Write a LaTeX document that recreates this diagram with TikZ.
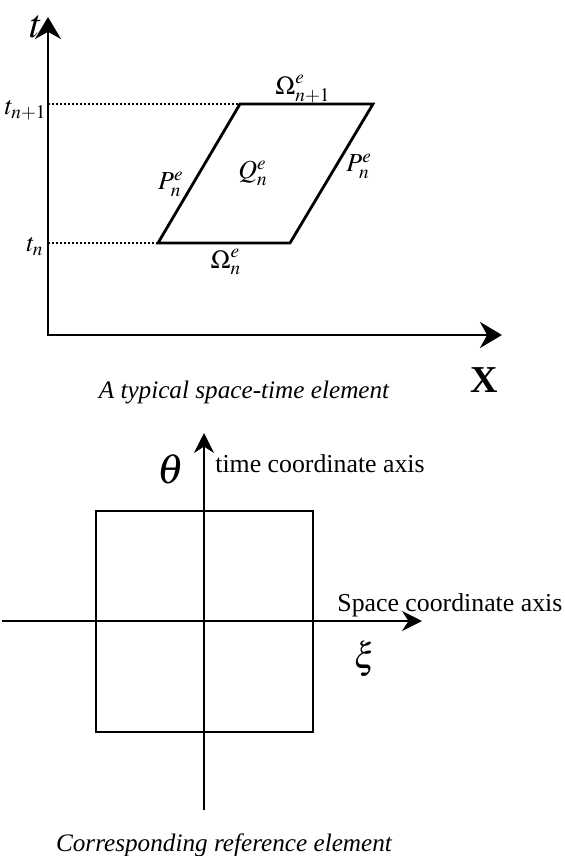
\documentclass[tikz,border=0pt]{standalone}
\usepackage{amsmath}
\usepackage{mathptmx}
\usepackage{fontspec}
\setmainfont{Liberation Serif}
\usetikzlibrary{arrows.meta, positioning}

\begin{document}
\begin{tikzpicture}[
    x=0.5pt, y=-0.5pt,
    bigaxis/.style={line width=1.4pt,
        {Stealth[length=11pt, width=13pt]}-{Stealth[length=11pt, width=13pt]}},
    thinaxis/.style={line width=0.8pt, -{Stealth[length=10pt, width=10pt]}},
    elemedge/.style={line width=1.4pt, line join=miter},
    guide/.style={line width=1.1pt, dash pattern=on 1.2pt off 0.8pt},
    refbox/.style={line width=0.7pt},
    lbl/.style={inner sep=0pt, font=\fontsize{13}{15}\selectfont},
    biglbl/.style={inner sep=0pt, font=\fontsize{18}{20}\selectfont},
    caption/.style={inner sep=0pt, font=\fontsize{12.6}{15}\selectfont\itshape},
    axistext/.style={inner sep=0pt, anchor=west, font=\fontsize{12.9}{15}\selectfont}
  ]
  \useasboundingbox (0,0) rectangle (565,856);

  % space-time element
  \coordinate (o1) at (48,335);
  \coordinate (ttip) at (48,17);
  \coordinate (xtip) at (502,335);
  \coordinate (tn1) at (48,104);
  \coordinate (tn) at (48,243);
  \coordinate (a) at (158,243);
  \coordinate (b) at (290,243);
  \coordinate (c) at (373,104);
  \coordinate (d) at (240,104);
  \draw[bigaxis] (ttip) -- (o1) -- (xtip);
  \draw[guide] (tn1) -- (d);
  \draw[guide] (tn) -- (a);
  \draw[elemedge] (a) -- (b) -- (c) -- (d) -- cycle;
  \node[biglbl, font=\fontsize{20}{22}\selectfont] (tlab) at (36,27) {$t$};
  \node[lbl, anchor=east] (tn1lab) at (47,110) {$t_{n+1}$};
  \node[lbl, anchor=east] (tnlab) at (44,247) {$t_n$};
  \node[lbl] (om1) at (303,89) {$\boldsymbol{\Omega}^e_{n+1}$};
  \node[lbl] (om0) at (226,262) {$\boldsymbol{\Omega}^e_n$};
  \node[lbl, anchor=east] (pleft) at (184,184) {$P^e_n$};
  \node[lbl] (qmid) at (253,173) {$Q^e_n$};
  \node[lbl, anchor=west] (pright) at (346,166) {$P^e_n$};
  \node[biglbl, font=\fontsize{19}{20}\selectfont\bfseries] (xlab) at (484,380) {X};
  \node[caption] (cap1) at (244,392) {A typical space-time element};

  % reference element
  \coordinate (o2) at (204,621);
  \coordinate (thtip) at (204,433);
  \coordinate (thend) at (204,810);
  \coordinate (xitip) at (422,621);
  \coordinate (xiend) at (2,621);
  \draw[refbox] (96,511) rectangle (313,732);
  \draw[thinaxis] (thend) -- (thtip);
  \draw[thinaxis] (xiend) -- (xitip);
  \node[biglbl, font=\fontsize{21}{22}\selectfont] (thlab) at (171,469) {$\theta$};
  \node[axistext] (tax) at (215,464) {time coordinate axis};
  \node[axistext] (sax) at (337,605) {Space coordinate axis};
  \node[biglbl] (xilab) at (365,659) {$\xi$};
  \node[caption] (cap2) at (224,845) {Corresponding reference element};
\end{tikzpicture}
\end{document}
